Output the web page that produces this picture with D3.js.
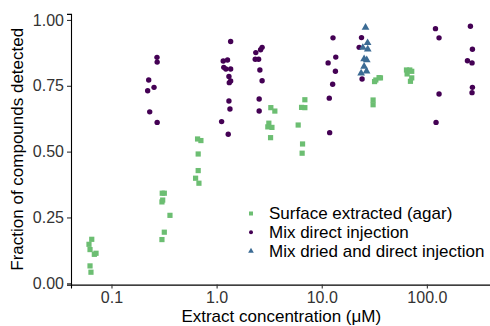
<!DOCTYPE html>
<html>
<head>
<meta charset="utf-8">
<script src="https://cdn.jsdelivr.net/npm/d3@7"></script>
<style>
    body { margin: 0; background: #fff; }
    svg { display: block; font-family: "Liberation Sans", Arial, sans-serif; }
</style>
</head>
<body>
<div id="chart"></div>
<script>
// values
const surfaceX = [0.0649, 0.0611, 0.0625, 0.0687, 0.0713, 0.0625, 0.0638,
    0.304, 0.318, 0.302, 0.307, 0.360, 0.318, 0.302,
    0.659, 0.709, 0.668, 0.668, 0.631, 0.679,
    3.28, 3.58, 3.14, 3.07, 3.36, 3.26,
    6.91, 6.43, 6.91, 5.97, 6.57, 6.51,
    32.7, 35.1, 36.2, 31.8, 30.8, 30.8,
    64.0, 68.8, 71.8, 64.9, 71.8, 69.8];
const surfaceY = [0.167, 0.148, 0.128, 0.110, 0.114, 0.066, 0.042,
    0.342, 0.342, 0.309, 0.316, 0.258, 0.194, 0.166,
    0.548, 0.542, 0.491, 0.428, 0.399, 0.380,
    0.667, 0.654, 0.608, 0.594, 0.592, 0.553,
    0.697, 0.668, 0.667, 0.601, 0.529, 0.494,
    0.772, 0.781, 0.780, 0.766, 0.696, 0.678,
    0.810, 0.810, 0.805, 0.795, 0.780, 0.767];

const directX = [0.271, 0.272, 0.226, 0.221, 0.254, 0.231, 0.272,
    1.36, 1.156, 1.27, 1.17, 1.225, 1.36, 1.31, 1.36, 1.32, 1.31, 1.34, 1.116, 1.29,
    2.71, 2.62, 2.36, 2.33, 2.51, 2.58, 2.71, 2.54, 2.54,
    12.8, 13.6, 11.5, 13.5, 12.7, 11.8, 11.9,
    23.9, 22.7, 24.2,
    120.8, 130.6, 130.6, 122.3,
    259.6, 271.3, 243.3, 269, 271.3, 269];
const directY = [0.858, 0.840, 0.772, 0.731, 0.744, 0.651, 0.611,
    0.918, 0.844, 0.848, 0.820, 0.814, 0.814, 0.785, 0.768, 0.762, 0.692, 0.662, 0.614, 0.566,
    0.896, 0.887, 0.876, 0.851, 0.851, 0.810, 0.769, 0.700, 0.654,
    0.932, 0.859, 0.837, 0.805, 0.756, 0.703, 0.572,
    0.933, 0.896, 0.776,
    0.967, 0.932, 0.719, 0.611,
    0.976, 0.889, 0.845, 0.837, 0.744, 0.724];

const driedX = [26.1, 27.3, 24.6, 27.4, 25.3, 26.8, 25.3, 26.7, 23.7];
const driedY = [0.971, 0.913, 0.895, 0.889, 0.852, 0.848, 0.823, 0.805, 0.798];

const xTicks = [0.1, 1, 10, 100];
const yTicks = [0, 0.25, 0.5, 0.75, 1];
const seriesNames = ['Surface extracted (agar)', 'Mix direct injection', 'Mix dried and direct injection'];

let svgWidth = 490,
    svgHeight = 326;

let colors = ['#6cbe72', '#440154', '#3b6b94'];

let x = d3.scaleLog().domain([0.0412, 412]).range([71, 491.5]),
    y = d3.scaleLinear().domain([-0.005, 1.023]).range([284.6, 13.9]);

let svg = d3.select('#chart')
    .append('svg')
    .attr('width', svgWidth)
    .attr('height', svgHeight);

// axes
let xAxis = svg.append('g')
    .attr('transform', 'translate(0,' + y.range()[0] + ')')
    .call(d3.axisBottom(x).tickValues(xTicks).tickFormat(d3.format('.1f')).tickSizeOuter(0).tickSize(4).tickPadding(3));

let yAxis = svg.append('g')
    .attr('transform', 'translate(' + x.range()[0] + ',0)')
    .call(d3.axisLeft(y).tickValues(yTicks).tickFormat(d3.format('.2f')).tickSizeOuter(0).tickSize(4).tickPadding(3));

[xAxis, yAxis].forEach(a => {
    a.select('.domain').attr('stroke', '#000').attr('stroke-width', 1.1);
    a.selectAll('.tick line').attr('stroke', '#333').attr('stroke-width', 1.1);
    a.selectAll('.tick text').attr('fill', '#333').style('font-size', '16px');
});

svg.append('text')
    .attr('x', (x.range()[0] + x.range()[1]) / 2)
    .attr('y', 321.5)
    .attr('text-anchor', 'middle')
    .style('font-size', '17px')
    .text('Extract concentration (μM)');

svg.append('text')
    .attr('transform', 'translate(23,' + ((y.range()[0] + y.range()[1]) / 2) + ') rotate(-90)')
    .attr('text-anchor', 'middle')
    .style('font-size', '17px')
    .text('Fraction of compounds detected');

// points
let g = svg.append('g');

g.selectAll('.surface')
    .data(d3.zip(surfaceX, surfaceY))
    .enter()
    .append('rect')
    .attr('class', 'surface')
    .attr('x', d => x(d[0]) - 2.6)
    .attr('y', d => y(d[1]) - 2.6)
    .attr('width', 5.2)
    .attr('height', 5.2)
    .attr('fill', colors[0]);

g.selectAll('.direct')
    .data(d3.zip(directX, directY))
    .enter()
    .append('circle')
    .attr('class', 'direct')
    .attr('cx', d => x(d[0]))
    .attr('cy', d => y(d[1]))
    .attr('r', 2.7)
    .attr('fill', colors[1]);

let tri = d3.symbol().type(d3.symbolTriangle).size(26);

g.selectAll('.dried')
    .data(d3.zip(driedX, driedY))
    .enter()
    .append('path')
    .attr('class', 'dried')
    .attr('transform', d => 'translate(' + x(d[0]) + ',' + y(d[1]) + ')')
    .attr('d', tri)
    .attr('fill', colors[2]);

// legend
let legend = svg.append('g').attr('transform', 'translate(251,213.5)');
let rowH = 18.8;

legend.append('rect')
    .attr('x', -2).attr('y', -2).attr('width', 4).attr('height', 4)
    .attr('fill', colors[0]);
legend.append('circle')
    .attr('cx', 0).attr('cy', rowH).attr('r', 2)
    .attr('fill', colors[1]);
legend.append('path')
    .attr('transform', 'translate(0,' + (rowH * 2) + ')')
    .attr('d', d3.symbol().type(d3.symbolTriangle).size(14))
    .attr('fill', colors[2]);

legend.selectAll('.lab')
    .data(seriesNames)
    .enter()
    .append('text')
    .attr('class', 'lab')
    .attr('x', 18)
    .attr('y', (d, i) => i * rowH)
    .attr('dy', '0.35em')
    .style('font-size', '17px')
    .text(d => d);
</script>
</body>
</html>
